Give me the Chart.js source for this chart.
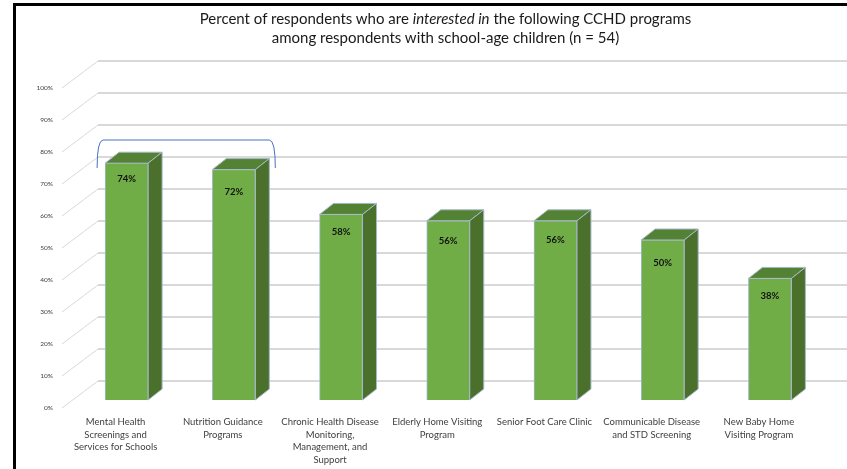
<!DOCTYPE html>
<html>
<head>
<meta charset="utf-8">
<script src="https://cdn.jsdelivr.net/npm/chart.js@4"></script>
<style>
  html, body { margin: 0; padding: 0; background: #fff; overflow: hidden; }
  #wrap { position: relative; width: 847px; height: 469px; }
  #frame { position: absolute; left: 13px; top: 3px; right: 0; bottom: 0; border-left: 3px solid #000; border-top: 3px solid #000; pointer-events: none; }
  #titulo { position: absolute; left: 0; width: 891px; top: 9px; text-align: center; font: 15px/19px Lato, sans-serif; color: #1a1a1a; }
</style>
</head>
<body>
<div id="wrap">
  <canvas id="grafico" width="847" height="469"></canvas>
  <div id="frame"></div>
  <div id="titulo">Percent of respondents who are <em>interested in</em> the following CCHD programs<br>among respondents with school-age children (n = 54)</div>
</div>
<script>
const programas = [
  ['Mental Health', 'Screenings and', 'Services for Schools'],
  ['Nutrition Guidance', 'Programs'],
  ['Chronic Health Disease', 'Monitoring,', 'Management, and', 'Support'],
  ['Elderly Home Visiting', 'Program'],
  'Senior Foot Care Clinic',
  ['Communicable Disease', 'and STD Screening'],
  ['New Baby Home', 'Visiting Program']
];
const porcentajes = [74, 72, 58, 56, 56, 50, 38];
const marcasY = [0, 10, 20, 30, 40, 50, 60, 70, 80, 90, 100];
// how far below the bar top each value label sits
const bajadaEtiqueta = [16, 22, 18, 20, 19, 23, 18];

// 3D look
const fondo = { dx: 36, dy: -27, desdeBarra: -19 };
const prof = { dx: 14, dy: -11 };

const pared3d = {
  id: 'pared3d',
  beforeDatasetsDraw(chart) {
    const { ctx, scales: { y } } = chart;
    const xFondo = 98;
    ctx.save();
    y.ticks.forEach(t => {
      const py = y.getPixelForValue(t.value);
      ctx.strokeStyle = '#d9d9d9';
      ctx.lineWidth = 2;
      ctx.beginPath();
      ctx.moveTo(xFondo, py + fondo.desdeBarra);
      ctx.lineTo(chart.width, py + fondo.desdeBarra);
      ctx.stroke();
      ctx.lineWidth = 1;
      ctx.beginPath();
      ctx.moveTo(xFondo - fondo.dx, py + fondo.desdeBarra - fondo.dy);
      ctx.lineTo(xFondo, py + fondo.desdeBarra);
      ctx.stroke();
    });
    // top and side faces of every bar
    chart.getDatasetMeta(0).data.forEach(b => {
      const der = b.x + b.width / 2, izq = b.x - b.width / 2;
      ctx.strokeStyle = '#a5b8c8';
      ctx.lineWidth = 1;
      ctx.fillStyle = '#548235';
      ctx.beginPath();
      ctx.moveTo(izq, b.y);
      ctx.lineTo(izq + prof.dx, b.y + prof.dy);
      ctx.lineTo(der + prof.dx, b.y + prof.dy);
      ctx.lineTo(der, b.y);
      ctx.closePath();
      ctx.fill();
      ctx.stroke();
      ctx.fillStyle = '#4a702c';
      ctx.beginPath();
      ctx.moveTo(der, b.y);
      ctx.lineTo(der + prof.dx, b.y + prof.dy);
      ctx.lineTo(der + prof.dx, b.base + prof.dy);
      ctx.lineTo(der, b.base);
      ctx.closePath();
      ctx.fill();
      ctx.stroke();
    });
    ctx.restore();
  },
  afterDatasetsDraw(chart) {
    const { ctx } = chart;
    const barras = chart.getDatasetMeta(0).data;
    ctx.save();
    ctx.font = 'bold 9.5px Lato, sans-serif';
    ctx.fillStyle = '#111';
    ctx.textAlign = 'center';
    ctx.textBaseline = 'middle';
    barras.forEach((b, i) => {
      ctx.fillText(porcentajes[i] + '%', b.x, b.y + bajadaEtiqueta[i]);
    });
    // bracket over the first two bars
    const a = barras[0].x - 29.5, c = barras[1].x + 41.5;
    ctx.strokeStyle = '#4472c4';
    ctx.lineWidth = 1;
    ctx.beginPath();
    ctx.moveTo(a, 168);
    ctx.quadraticCurveTo(a, 140, a + 6, 140);
    ctx.lineTo(c - 6, 140);
    ctx.quadraticCurveTo(c, 140, c, 168);
    ctx.stroke();
    ctx.restore();
  }
};

new Chart(document.getElementById('grafico'), {
  type: 'bar',
  data: {
    labels: programas,
    datasets: [{
      data: porcentajes,
      backgroundColor: '#70ad47',
      borderColor: '#a5b8c8',
      borderWidth: 1,
      barThickness: 43
    }]
  },
  plugins: [pared3d],
  options: {
    responsive: false,
    animation: false,
    layout: { padding: { top: 80, right: 23.5, left: 0, bottom: 0 } },
    plugins: { legend: { display: false }, title: { display: false }, tooltip: { enabled: false } },
    scales: {
      x: {
        grid: { display: false },
        border: { display: false },
        afterFit(s) { s.height = 69; },
        ticks: {
          autoSkip: false, maxRotation: 0, minRotation: 0, padding: 8, labelOffset: -11,
          color: '#404040', font: { family: 'Lato, sans-serif', size: 9.5, lineHeight: 1.32 }
        }
      },
      y: {
        min: 0, max: 100,
        afterFit(s) { s.width = 73; },
        afterBuildTicks(s) { s.ticks = marcasY.map(v => ({ value: v })); },
        grid: { display: false, drawTicks: false },
        border: { display: false },
        ticks: {
          padding: 20, labelOffset: 8, callback: v => v + '%',
          color: '#404040', font: { family: 'Lato, sans-serif', size: 6.5 }
        }
      }
    }
  }
});
</script>
</body>
</html>
